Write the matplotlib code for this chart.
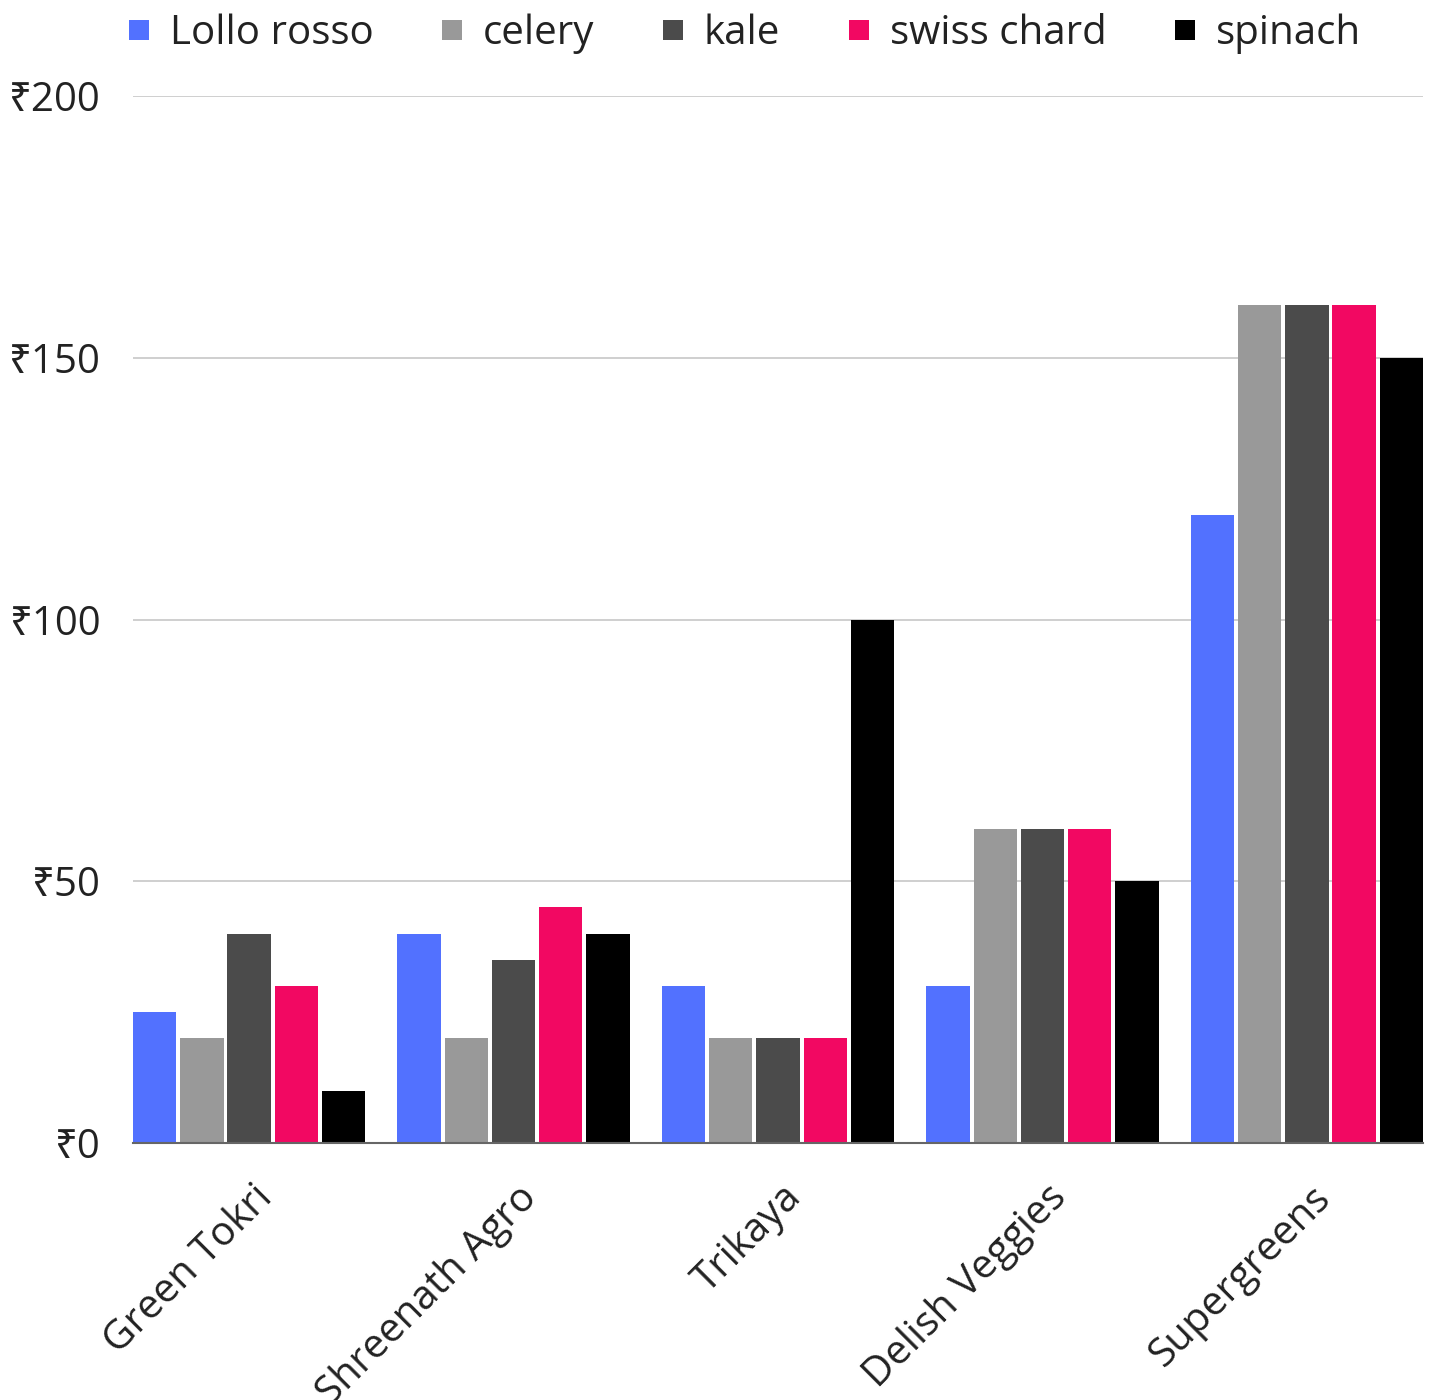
import matplotlib
matplotlib.use("Agg")
import matplotlib.pyplot as plt
import matplotlib.transforms as mtransforms
from matplotlib.lines import Line2D
from matplotlib.ticker import FuncFormatter
import numpy as np

plt.rcParams['font.family'] = ['Open Sans', 'Noto Sans', 'DejaVu Sans']

categories = ["Green Tokri", "Shreenath Agro", "Trikaya", "Delish Veggies", "Supergreens"]
series_names = ["Lollo rosso", "celery", "kale", "swiss chard", "spinach"]
lollo_rosso = [25, 40, 30, 30, 120]
celery = [20, 20, 20, 60, 160]
kale = [40, 35, 20, 60, 160]
swiss_chard = [30, 45, 20, 60, 160]
spinach = [10, 40, 100, 50, 150]
series_values = [lollo_rosso, celery, kale, swiss_chard, spinach]
colors = ["#5271ff", "#999999", "#4b4b4b", "#f20862", "#000000"]
yticks = [0, 50, 100, 150, 200]

W, H = 1433, 1400
fig = plt.figure(figsize=(W / 100, H / 100), dpi=100)
ax = fig.add_axes([133 / W, (H - 1143) / H, (1423 - 133) / W, (1143 - 96) / H])

x = np.arange(len(categories))
step = 0.1785
bw = 0.164
for i, (name, vals, c) in enumerate(zip(series_names, series_values, colors)):
    ax.bar(x + (i - 2) * step, vals, width=bw, color=c, label=name, zorder=3, linewidth=0)

half = 2 * step + bw / 2
ax.set_xlim(-half, len(categories) - 1 + half)
ax.set_ylim(0, 200)
ax.set_yticks(yticks)
ax.yaxis.set_major_formatter(FuncFormatter(lambda v, p: "₹{:.0f}".format(v)))
ax.grid(axis='y', color='#cccccc', linewidth=1.3, zorder=0)
for s in ['top', 'right', 'left']:
    ax.spines[s].set_visible(False)
ax.spines['bottom'].set_color('#666666')
ax.spines['bottom'].set_linewidth(1.5)
ax.spines['bottom'].set_zorder(4)
ax.tick_params(axis='y', length=0, pad=23, labelsize=29, labelcolor='#222222')
ax.tick_params(axis='x', length=0)
ax.set_xticks(x)
ax.set_xticklabels(categories, fontsize=29, rotation=45, ha='right', va='center',
                   rotation_mode='anchor', color='#222222')
offset = mtransforms.ScaledTranslation(18 / 100, -44 / 100, fig.dpi_scale_trans)
for lbl in ax.get_xticklabels():
    lbl.set_transform(lbl.get_transform() + offset)

handles = [Line2D([], [], marker='s', linestyle='none', markersize=14, color=c,
                  markeredgewidth=0) for c in colors]
fig.legend(handles, series_names, loc='center', bbox_to_anchor=(745 / W, 1 - 34 / H),
           ncol=5, frameon=False, fontsize=29, handlelength=0.5, handletextpad=0.52,
           columnspacing=1.7, labelcolor='#222222')

fig.savefig("out.png", dpi=100)
